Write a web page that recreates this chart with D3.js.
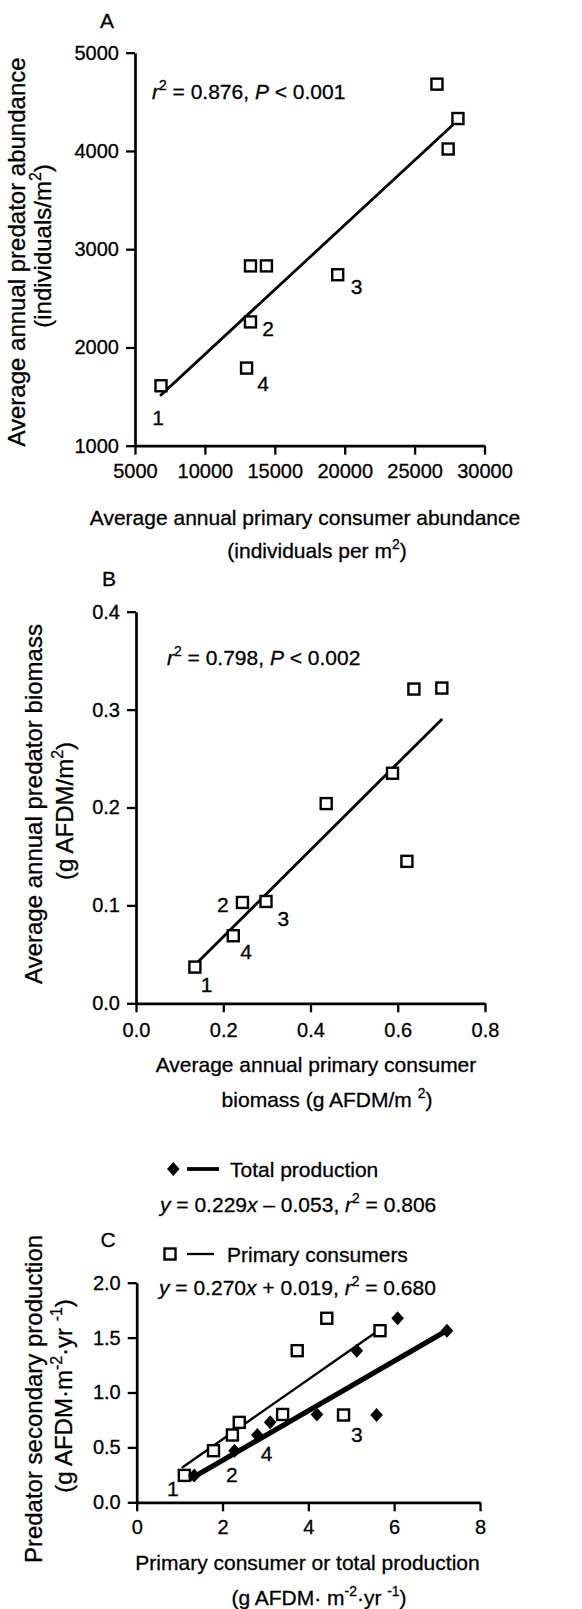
<!DOCTYPE html>
<html>
<head>
<meta charset="utf-8">
<script src="https://cdnjs.cloudflare.com/ajax/libs/d3/7.8.5/d3.min.js"></script>
<style>
  body { margin: 0; background: #fff; }
  svg { display: block; }
  svg text { stroke: #000; stroke-width: 0.3px; }
</style>
</head>
<body>
<script>
// ---- data ----

// A: abundance (individuals per m2)
const abundPrimary  = [26600, 28100, 27400, 13260, 14400, 19500, 13260, 12980, 6860];
const abundPredator = [4680, 4330, 4020, 2830, 2830, 2740, 2260, 1790, 1610];
const fitA = {x0: 6860, x1: 27900, slope: 0.1317, intercept: 613};
const ticksAx = [5000, 10000, 15000, 20000, 25000, 30000];
const ticksAy = [1000, 2000, 3000, 4000, 5000];

// B: biomass (g AFDM/m2)
const bioPrimary  = [0.637, 0.701, 0.588, 0.436, 0.621, 0.244, 0.298, 0.223, 0.135];
const bioPredator = [0.321, 0.322, 0.235, 0.204, 0.145, 0.103, 0.104, 0.069, 0.037];
const fitB = {x0: 0.139, x1: 0.70, slope: 0.4435, intercept: -0.0208};
const ticksBx = [0, 0.2, 0.4, 0.6, 0.8];
const ticksBy = [0, 0.1, 0.2, 0.3, 0.4];

// C: production (g AFDM m-2 yr-1)
const prodPredator = [1.676, 1.381, 1.563, 0.245, 0.470, 0.613, 0.728, 0.800, 0.795];
const prodPrimary  = [4.43, 3.74, 5.67, 1.11, 1.79, 2.23, 2.39, 3.40, 4.82];
const prodTotal    = [6.08, 5.13, 7.23, 1.34, 2.28, 2.81, 3.11, 4.20, 5.59];
const fitCTotal   = {x0: 1.28, x1: 7.26, slope: 0.226, intercept: -0.070};
const fitCPrimary = {x0: 1.07, x1: 5.71, slope: 0.2726, intercept: 0.028};
const ticksCx = [0, 2, 4, 6, 8];
const ticksCy = [0, 0.5, 1.0, 1.5, 2.0];

const legendC = ['Total production', 'Primary consumers'];

// ---- layout ----
const font = '"Liberation Sans", Arial, Helvetica, sans-serif';
const svg = d3.select('body').append('svg')
  .attr('width', 582)
  .attr('height', 1609)
  .style('font-family', font);

// text with italic / superscript pieces: [string, flags]
function rich(sel, parts, fs) {
  let up = false;
  parts.forEach(([t, f = '']) => {
    const sup = f.includes('s');
    const ts = sel.append('tspan').text(t);
    if (f.includes('i')) ts.attr('font-style', 'italic');
    if (sup) ts.attr('font-size', fs * 0.66);
    if (sup && !up) ts.attr('dy', -fs * 0.42);
    if (!sup && up) ts.attr('dy', fs * 0.42);
    up = sup;
  });
  return sel;
}

function label(x, y, parts, fs, anchor = 'start', rotate = false) {
  const t = svg.append('text')
    .attr('font-size', fs)
    .attr('text-anchor', anchor)
    .attr('fill', '#000');
  if (rotate) t.attr('transform', `translate(${x},${y}) rotate(-90)`);
  else t.attr('x', x).attr('y', y);
  return rich(t, parts, fs);
}

function panel(frame, xDom, yDom, xTicks, yTicks, xFmt, yFmt, xPad) {
  const g = svg.append('g').attr('transform', `translate(${frame.left},${frame.top})`);
  const x = d3.scaleLinear().domain(xDom).range([0, frame.width]);
  const y = d3.scaleLinear().domain(yDom).range([frame.height, 0]);

  const ax = g.append('g')
    .attr('transform', `translate(0,${frame.height})`)
    .call(d3.axisBottom(x).tickValues(xTicks).tickFormat(xFmt)
      .tickSize(9).tickSizeOuter(0).tickPadding(xPad));
  const ay = g.append('g')
    .call(d3.axisLeft(y).tickValues(yTicks).tickFormat(yFmt)
      .tickSize(9).tickSizeOuter(0).tickPadding(7));

  [ax, ay].forEach((a) => {
    a.select('.domain').attr('stroke-width', 2.7);
    a.selectAll('.tick line').attr('stroke-width', 2.3);
    a.selectAll('.tick text')
      .attr('font-size', 20)
      .attr('font-family', font)
      .attr('fill', '#000');
  });
  return {g, x, y};
}

function fitLine(p, fit, w) {
  p.g.append('line')
    .attr('x1', p.x(fit.x0))
    .attr('y1', p.y(fit.slope * fit.x0 + fit.intercept))
    .attr('x2', p.x(fit.x1))
    .attr('y2', p.y(fit.slope * fit.x1 + fit.intercept))
    .attr('stroke', '#000')
    .attr('stroke-width', w)
    .attr('stroke-linecap', 'round');
}

const sq = 11;
const diamondPath = 'M0,-7L6.3,0L0,7L-6.3,0Z';

function squares(p, xs, ys) {
  p.g.append('g').selectAll('rect')
    .data(d3.zip(xs, ys))
    .join('rect')
    .attr('x', (d) => p.x(d[0]) - sq / 2)
    .attr('y', (d) => p.y(d[1]) - sq / 2)
    .attr('width', sq)
    .attr('height', sq)
    .attr('fill', '#fff')
    .attr('stroke', '#000')
    .attr('stroke-width', 2.4);
}

function diamonds(p, xs, ys) {
  p.g.append('g').selectAll('path')
    .data(d3.zip(xs, ys))
    .join('path')
    .attr('d', diamondPath)
    .attr('transform', (d) => `translate(${p.x(d[0])},${p.y(d[1])})`)
    .attr('fill', '#000');
}

// site numbers, offset in px from the marked point
function siteLabels(p, items) {
  p.g.append('g').selectAll('text')
    .data(items)
    .join('text')
    .attr('x', (d) => p.x(d.xs[d.i]) + d.dx)
    .attr('y', (d) => p.y(d.ys[d.i]) + d.dy)
    .attr('text-anchor', 'middle')
    .attr('font-size', 21)
    .attr('fill', '#000')
    .text((d) => d.t);
}

/////////////////////////
// Panel A

const pA = panel({left: 135, top: 52.7, width: 349.5, height: 393},
  [5000, 30000], [1000, 5000], ticksAx, ticksAy, d3.format('d'), d3.format('d'), 9);
fitLine(pA, fitA, 2.8);
squares(pA, abundPrimary, abundPredator);
siteLabels(pA, [
  {t: '1', i: 8, dx: -3, dy: 39.5},
  {t: '2', i: 6, dx: 17.6, dy: 14},
  {t: '3', i: 5, dx: 19, dy: 19.5},
  {t: '4', i: 7, dx: 16.6, dy: 22.5},
].map((d) => ({...d, xs: abundPrimary, ys: abundPredator})));

label(107, 28, [['A']], 21, 'middle');
label(152, 99, [['r', 'i'], ['2', 's'], [' = 0.876, '], ['P', 'i'], [' < 0.001']], 21);
label(305, 525, [['Average annual primary consumer abundance']], 21, 'middle');
label(317, 558, [['(individuals per m'], ['2', 's'], [')']], 21, 'middle');
label(25, 252, [['Average annual predator abundance']], 24, 'middle', true);
label(51, 246, [['(individuals/m'], ['2', 's'], [')']], 24, 'middle', true);

/////////////////////////
// Panel B

const pB = panel({left: 136, top: 611.7, width: 349, height: 391.6},
  [0, 0.8], [0, 0.4], ticksBx, ticksBy, d3.format('.1f'), d3.format('.1f'), 11);
fitLine(pB, fitB, 2.8);
squares(pB, bioPrimary, bioPredator);
siteLabels(pB, [
  {t: '1', i: 8, dx: 11.7, dy: 25.2},
  {t: '2', i: 5, dx: -19.6, dy: 9.8},
  {t: '3', i: 6, dx: 17.3, dy: 24.1},
  {t: '4', i: 7, dx: 12.7, dy: 23.2},
].map((d) => ({...d, xs: bioPrimary, ys: bioPredator})));

label(109, 586, [['B']], 21, 'middle');
label(167, 665, [['r', 'i'], ['2', 's'], [' = 0.798, '], ['P', 'i'], [' < 0.002']], 21);
label(316, 1072, [['Average annual primary consumer']], 21, 'middle');
label(327, 1107, [['biomass (g AFDM/m '], ['2', 's'], [')']], 21, 'middle');
label(42, 804, [['Average annual predator biomass']], 24, 'middle', true);
label(73, 811, [['(g AFDM/m'], ['2', 's'], [')']], 24, 'middle', true);

/////////////////////////
// Panel C

const pC = panel({left: 136.7, top: 1282.7, width: 343.3, height: 219.6},
  [0, 8], [0, 2], ticksCx, ticksCy, d3.format('d'), d3.format('.1f'), 9);
fitLine(pC, fitCPrimary, 2.4);
fitLine(pC, fitCTotal, 5.2);
squares(pC, prodPrimary, prodPredator);
diamonds(pC, prodTotal, prodPredator);
siteLabels(pC, [
  {t: '1', i: 3, dx: -11.6, dy: 20.8, xs: prodPrimary},
  {t: '2', i: 4, dx: -2.6, dy: 31.8, xs: prodTotal},
  {t: '3', i: 8, dx: 13.4, dy: 27.5, xs: prodPrimary},
  {t: '4', i: 5, dx: 9.4, dy: 25.8, xs: prodTotal},
].map((d) => ({...d, ys: prodPredator})));

label(108, 1247, [['C']], 21, 'middle');

// legend
svg.append('path').attr('d', diamondPath)
  .attr('transform', 'translate(173.3,1169)').attr('fill', '#000');
svg.append('line').attr('x1', 187).attr('x2', 219).attr('y1', 1169).attr('y2', 1169)
  .attr('stroke', '#000').attr('stroke-width', 3.8);
label(230, 1177.3, [[legendC[0]]], 21);
label(160, 1212.3, [['y', 'i'], [' = 0.229'], ['x', 'i'], [' \u2013 0.053, '], ['r', 'i'], ['2', 's'], [' = 0.806']], 21);

svg.append('rect').attr('x', 170 - sq / 2).attr('y', 1254 - sq / 2)
  .attr('width', sq).attr('height', sq)
  .attr('fill', '#fff').attr('stroke', '#000').attr('stroke-width', 2.4);
svg.append('line').attr('x1', 187).attr('x2', 214).attr('y1', 1254).attr('y2', 1254)
  .attr('stroke', '#000').attr('stroke-width', 2.3);
label(227, 1262, [[legendC[1]]], 21);
label(159, 1295, [['y', 'i'], [' = 0.270'], ['x', 'i'], [' + 0.019, '], ['r', 'i'], ['2', 's'], [' = 0.680']], 21);

label(307.5, 1570, [['Primary consumer or total production']], 21, 'middle');
label(319, 1605, [['(g AFDM\u00b7 m'], ['-2', 's'], ['\u00b7yr '], ['-1', 's'], [')']], 21, 'middle');
label(42, 1399, [['Predator secondary production']], 24, 'middle', true);
label(72, 1396, [['(g AFDM\u00b7m'], ['-2', 's'], ['\u00b7yr '], ['-1', 's'], [')']], 24, 'middle', true);
</script>
</body>
</html>
